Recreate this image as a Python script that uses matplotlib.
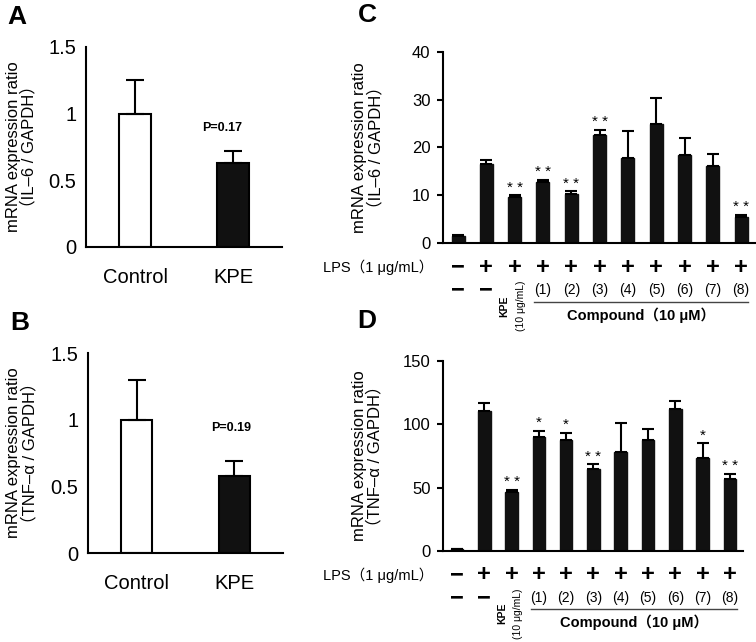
import matplotlib
matplotlib.use('Agg')
import matplotlib.pyplot as plt
import matplotlib.transforms as mtransforms
import numpy as np

plt.rcParams['font.family'] = ['Liberation Sans', 'Noto Sans CJK SC', 'DejaVu Sans']

# panel A / B : Control vs KPE
ab_groups = ['Control', 'KPE']
il6_ab = [1.0, 0.63]
il6_ab_sem = [0.25, 0.09]
tnf_ab = [1.0, 0.58]
tnf_ab_sem = [0.30, 0.11]
ab_yticks = [0, 0.5, 1, 1.5]
ab_yticklabels = ['0', '0.5', '1', '1.5']

# panel C / D : LPS + treatments
lps_signs = ['−', '+', '+', '+', '+', '+', '+', '+', '+', '+', '+']
compounds = ['(1)', '(2)', '(3)', '(4)', '(5)', '(6)', '(7)', '(8)']
il6_c = [1.4, 16.6, 9.6, 12.7, 10.2, 22.6, 17.7, 25.0, 18.4, 16.1, 5.4]
il6_c_sem = [0.3, 0.7, 0.35, 0.5, 0.6, 1.05, 5.7, 5.3, 3.6, 2.5, 0.5]
il6_c_sig = ['', '', '**', '**', '**', '**', '', '', '', '', '**']
tnf_d = [1.3, 110.8, 46.6, 90.3, 87.6, 64.5, 77.9, 87.4, 111.8, 73.7, 56.6]
tnf_d_sem = [0.5, 5.8, 1.6, 4.7, 5.6, 3.9, 22.9, 8.6, 6.6, 11.3, 4.4]
tnf_d_sig = ['', '', '**', '*', '*', '**', '', '', '', '*', '**']

fig = plt.figure(figsize=(7.56, 6.42), dpi=100)


def style_axes(ax):
    for s in ['top', 'right']:
        ax.spines[s].set_visible(False)
    for s in ['left', 'bottom']:
        ax.spines[s].set_linewidth(1.5)


def panel_ab(rect, vals, sems, ylabel, ptext, px, py, labx):
    ax = fig.add_axes(rect)
    x = np.arange(len(vals))
    ax.bar(x, vals, 0.32, color=['white', '#111111'], edgecolor='black', linewidth=1.5, zorder=2)
    ax.errorbar(x, vals, yerr=[np.zeros(len(vals)), sems], fmt='none', ecolor='black',
                elinewidth=1.5, capsize=6.5, capthick=1.5, zorder=3)
    style_axes(ax)
    ax.set_xlim(-0.5, 1.5)
    ax.set_ylim(0, 1.5)
    ax.set_yticks(ab_yticks)
    ax.set_yticklabels(ab_yticklabels)
    ax.set_xticks(x)
    ax.set_xticklabels(ab_groups)
    ax.tick_params(axis='y', length=0, pad=7, labelsize=14.5)
    ax.tick_params(axis='x', length=0, pad=15, labelsize=14.5)
    ax.text(px, py, ptext, fontsize=9, fontweight='bold', ha='center', va='center')
    ax.text(labx, 0.5, ylabel, transform=ax.transAxes, rotation=90, ha='center', va='center',
            fontsize=12, linespacing=1.0, multialignment='center')
    return ax


def panel_cd(rect, vals, sems, sig, ylim, yticks, ylabel, xlims, labx):
    ax = fig.add_axes(rect)
    x = np.arange(len(vals))
    ax.bar(x, vals, 0.46, color='#111111', edgecolor='#111111', zorder=2)
    ax.errorbar(x, vals, yerr=[np.zeros(len(vals)), sems], fmt='none', ecolor='black',
                elinewidth=1.5, capsize=4.5, capthick=1.5, zorder=3)
    for xi, v, e, s in zip(x, vals, sems, sig):
        if s:
            ax.annotate(' '.join(s), (xi, v + e), xytext=(0, 0.5), textcoords='offset points',
                        ha='center', va='bottom', fontsize=11)
    style_axes(ax)
    ax.set_xlim(*xlims)
    ax.set_ylim(*ylim)
    ax.set_yticks(yticks)
    ax.set_xticks([])
    ax.tick_params(axis='y', length=4, width=1.5, pad=5, labelsize=12)
    ax.text(labx, 0.5, ylabel, transform=ax.transAxes, rotation=90, ha='center', va='center',
            fontsize=12, linespacing=1.0, multialignment='center')

    tr = mtransforms.blended_transform_factory(ax.transData, ax.transAxes)
    ax.text(-0.032, -0.126, 'LPS（1 μg/mL）', transform=ax.transAxes, ha='right', va='center',
            fontsize=10.5)
    for xi, s in zip(x, lps_signs):
        ax.text(xi, -0.126, s, transform=tr, ha='center', va='center', fontsize=17,
                fontweight='bold')
    for xi in x[:2]:
        ax.text(xi, -0.246, '−', transform=tr, ha='center', va='center', fontsize=17,
                fontweight='bold')
    ax.text(1.65, -0.33, 'KPE', transform=tr, rotation=90, ha='center', va='center',
            fontsize=7.5, fontweight='bold')
    ax.text(2.22, -0.33, '(10 μg/mL)', transform=tr, rotation=90, ha='center', va='center',
            fontsize=7.5)
    for xi, c in zip(x[3:], compounds):
        ax.text(xi, -0.246, c, transform=tr, ha='center', va='center', fontsize=10)
    ax.plot([2.7, 10.25], [-0.307, -0.307], transform=tr, color='#444444', lw=1, clip_on=False)
    ax.text(6.48, -0.377, 'Compound（10 μM）', transform=tr, ha='center', va='center',
            fontsize=10.5, fontweight='bold')
    return ax


panel_ab([0.1138, 0.6153, 0.2593, 0.3115], il6_ab, il6_ab_sem,
         'mRNA expression ratio\n（IL–6 / GAPDH）', 'P=0.17', 0.89, 0.89, -0.33)
panel_ab([0.1164, 0.1386, 0.2580, 0.3115], tnf_ab, tnf_ab_sem,
         'mRNA expression ratio\n（TNF–α / GAPDH）', 'P=0.19', 0.97, 0.94, -0.34)

panel_cd([0.586, 0.6215, 0.4127, 0.2975], il6_c, il6_c_sem, il6_c_sig, (0, 40),
         [0, 10, 20, 30, 40], 'mRNA expression ratio\n（IL–6 / GAPDH）', (-0.53, 10.49), -0.242)
panel_cd([0.586, 0.1417, 0.3968, 0.2960], tnf_d, tnf_d_sem, tnf_d_sig, (0, 150),
         [0, 50, 100, 150], 'mRNA expression ratio\n（TNF–α / GAPDH）', (-0.51, 10.48), -0.252)

for lab, px, py in [('A', 7, 5), ('B', 10, 311), ('C', 358, 3), ('D', 357, 309)]:
    fig.text(px / 756, 1 - py / 642, lab, fontsize=19, fontweight='bold', ha='left', va='top')

fig.savefig('out.png', dpi=100)
